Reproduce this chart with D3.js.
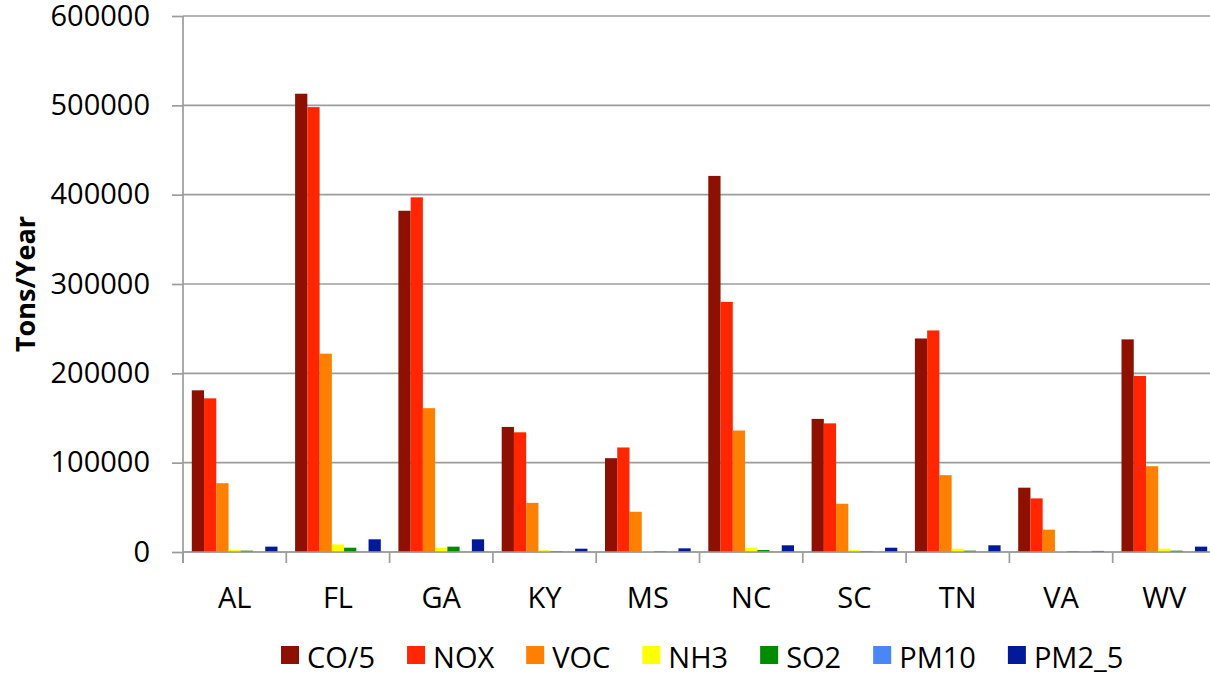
<!DOCTYPE html>
<html>
<head>
<meta charset="utf-8">
<script src="https://cdn.jsdelivr.net/npm/d3@7"></script>
<style>
  body { margin: 0; background: #fff; }
  svg text { font-family: "Open Sans", sans-serif; fill: #000; }
</style>
</head>
<body>
<svg id="chart" width="1210" height="675"></svg>
<script>
// states on the x axis
var states = ["AL", "FL", "GA", "KY", "MS", "NC", "SC", "TN", "VA", "WV"];
// pollutant series (tons/year)
var seriesNames = ["CO/5", "NOX", "VOC", "NH3", "SO2", "PM10", "PM2_5"];
var seriesColors = ["#8e1000", "#ff2600", "#ff7f00", "#ffff00", "#008c00", "#4a86f6", "#001a99"];
var co5  = [181000, 513000, 382000, 140000, 105000, 421000, 149000, 239000, 72000, 238000];
var nox  = [172000, 498000, 397000, 134000, 117000, 280000, 144000, 248000, 60000, 197000];
var voc  = [77000, 222000, 161000, 55000, 45000, 136000, 54000, 86000, 25000, 96000];
var nh3  = [2500, 8500, 4800, 2000, 1000, 4800, 2000, 3700, 800, 3700];
var so2  = [1500, 4800, 6000, 1000, 1000, 2200, 1000, 1500, 1000, 1500];
var pm10 = [300, 300, 300, 300, 300, 300, 300, 300, 300, 300];
var pm25 = [6000, 14200, 14200, 3700, 4100, 7500, 4800, 7500, 1200, 6000];
// y tick values
var yTicks = [0, 100000, 200000, 300000, 400000, 500000, 600000];

var allSeries = [co5, nox, voc, nh3, so2, pm10, pm25];

var svg = d3.select("#chart");
var mLeft = 183, mRight = 1216, mTop = 16, mBottom = 552;
var gridCol = "#9c9c9c";
var fontSize = 29;

var x = d3.scaleBand().domain(states).range([mLeft, mRight]).padding(0);
var xs = d3.scaleBand().domain(seriesNames)
    .range([8.8, x.bandwidth() - 8.8]).padding(0);
var y = d3.scaleLinear().domain([0, 600000]).range([mBottom, mTop]);

// y ticks and labels
var yAxis = svg.append("g")
    .attr("transform", "translate(" + mLeft + ",0)")
    .call(d3.axisLeft(y).tickValues(yTicks).tickSize(11).tickPadding(22)
        .tickFormat(d3.format("d")));
yAxis.select(".domain").remove();
yAxis.selectAll(".tick line").attr("stroke", gridCol).attr("stroke-width", 1.7);
yAxis.selectAll(".tick text").attr("font-size", fontSize).attr("font-family", "Open Sans").attr("fill", "#000");

// horizontal gridlines, run out to the right edge
svg.append("g").selectAll("line.grid")
    .data(yTicks).enter().append("line")
    .attr("class", "grid")
    .attr("x1", mLeft).attr("x2", 1210)
    .attr("y1", function (d) { return y(d); })
    .attr("y2", function (d) { return y(d); })
    .attr("stroke", gridCol).attr("stroke-width", 1.7);

// vertical axis line
svg.append("line")
    .attr("x1", mLeft).attr("x2", mLeft)
    .attr("y1", mTop).attr("y2", mBottom + 11)
    .attr("stroke", gridCol).attr("stroke-width", 1.7);

// bars
var groups = svg.append("g").selectAll("g.state")
    .data(states).enter().append("g")
    .attr("class", "state")
    .attr("transform", function (d) { return "translate(" + x(d) + ",0)"; });

groups.selectAll("rect")
    .data(function (d, i) {
        return seriesNames.map(function (s, j) {
            return { name: s, value: allSeries[j][i], color: seriesColors[j] };
        });
    })
    .enter().append("rect")
    .attr("x", function (d) { return xs(d.name); })
    .attr("width", xs.bandwidth())
    .attr("y", function (d) { return y(d.value); })
    .attr("height", function (d) { return y(0) - y(d.value); })
    .attr("fill", function (d) { return d.color; });

// x axis: ticks between states, labels centred
var xTicks = states.map(function (d) { return x(d); }).concat([mRight]);
svg.append("g").selectAll("line.xt")
    .data(xTicks).enter().append("line")
    .attr("x1", function (d) { return d; }).attr("x2", function (d) { return d; })
    .attr("y1", mBottom).attr("y2", mBottom + 11)
    .attr("stroke", gridCol).attr("stroke-width", 1.7);

svg.append("line")
    .attr("x1", mLeft).attr("x2", 1210)
    .attr("y1", mBottom).attr("y2", mBottom)
    .attr("stroke", gridCol).attr("stroke-width", 1.7);

svg.append("g").selectAll("text.xl")
    .data(states).enter().append("text")
    .attr("class", "xl")
    .attr("x", function (d) { return x(d) + x.bandwidth() / 2; })
    .attr("y", 608)
    .attr("text-anchor", "middle")
    .attr("font-size", fontSize)
    .text(function (d) { return d; });

// y axis title
svg.append("text")
    .attr("transform", "translate(35,284) rotate(-90)")
    .attr("text-anchor", "middle")
    .attr("font-size", 27)
    .attr("font-weight", "bold")
    .text("Tons/Year");

// legend
var legend = svg.append("g").attr("class", "legend");
var lx = 281;
seriesNames.forEach(function (name, i) {
    legend.append("rect")
        .attr("x", lx).attr("y", 646)
        .attr("width", 18).attr("height", 18)
        .attr("fill", seriesColors[i]);
    var t = legend.append("text")
        .attr("x", lx + 26).attr("y", 668)
        .attr("font-size", fontSize)
        .text(name);
    lx += 26 + t.node().getComputedTextLength() + 32;
});
</script>
</body>
</html>
